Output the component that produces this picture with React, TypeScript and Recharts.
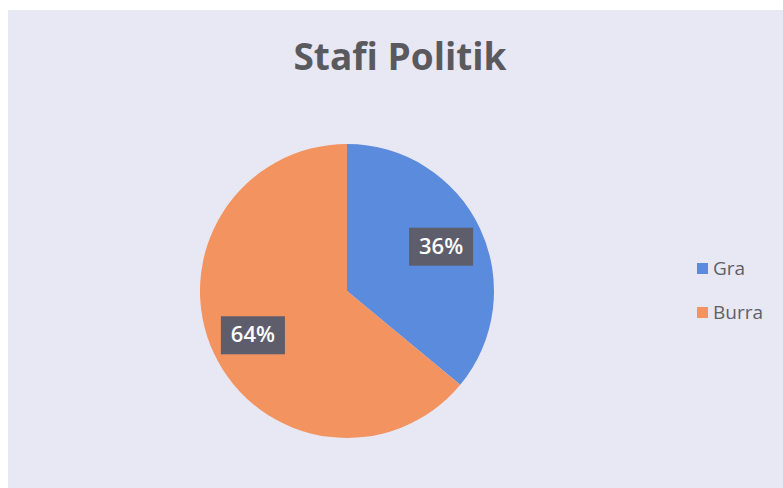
import { PieChart, Pie, Cell } from 'recharts';

// Slice data
const categories = ['Gra', 'Burra'];
const shares = [36, 64];
const sliceColors = ['#5a8bdc', '#f29360'];

const pieData = categories.map((name, i) => ({ name, value: shares[i] }));

const RADIAN = Math.PI / 180;
const FONT = "'Open Sans', Lato, sans-serif";

function SliceLabel(props: any) {
  const { cx, cy, midAngle, percent } = props;
  const r = 104;
  const x = cx + r * Math.cos(-midAngle * RADIAN);
  const y = cy + r * Math.sin(-midAngle * RADIAN);
  const w = 64;
  const h = 38;
  return (
    <g>
      <rect x={x - w / 2} y={y - h / 2} width={w} height={h} fill="#5d5d6c" />
      <text
        x={x}
        y={y + 1}
        textAnchor="middle"
        dominantBaseline="middle"
        fill="#ffffff"
        fontSize={22}
        fontWeight={600}
        fontFamily={FONT}
      >
        {`${Math.round(percent * 100)}%`}
      </text>
    </g>
  );
}

export default function App() {
  return (
    <div style={{ position: 'relative', width: 783, height: 488, background: '#ffffff', overflow: 'hidden' }}>
      <style>{'body{margin:0}'}</style>
      <div
        style={{
          position: 'absolute',
          left: 8,
          top: 10,
          width: 775,
          height: 478,
          background: '#e8e8f5',
        }}
      />
      <div
        style={{
          position: 'absolute',
          left: 0,
          top: 32,
          width: 800,
          textAlign: 'center',
          fontFamily: FONT,
          fontWeight: 700,
          fontSize: 37,
          lineHeight: '48px',
          color: '#5a5a5e',
        }}
      >
        Stafi Politik
      </div>
      <div style={{ position: 'absolute', left: 0, top: 0 }}>
        <PieChart width={783} height={488} margin={{ top: 0, right: 0, bottom: 0, left: 0 }}>
          <Pie
            data={pieData}
            dataKey="value"
            nameKey="name"
            cx={347}
            cy={291}
            outerRadius={147}
            startAngle={90}
            endAngle={-270}
            stroke="none"
            label={SliceLabel}
            labelLine={false}
            isAnimationActive={false}
          >
            {pieData.map((d, i) => (
              <Cell key={d.name} fill={sliceColors[i]} />
            ))}
          </Pie>
        </PieChart>
      </div>
      <div style={{ position: 'absolute', left: 697, top: 246, fontFamily: FONT }}>
        {categories.map((name, i) => (
          <div
            key={name}
            style={{ display: 'flex', alignItems: 'center', height: 44, color: '#5f5f66', fontSize: 19 }}
          >
            <span
              style={{ width: 11, height: 11, background: sliceColors[i], marginRight: 5, display: 'inline-block' }}
            />
            {name}
          </div>
        ))}
      </div>
    </div>
  );
}
